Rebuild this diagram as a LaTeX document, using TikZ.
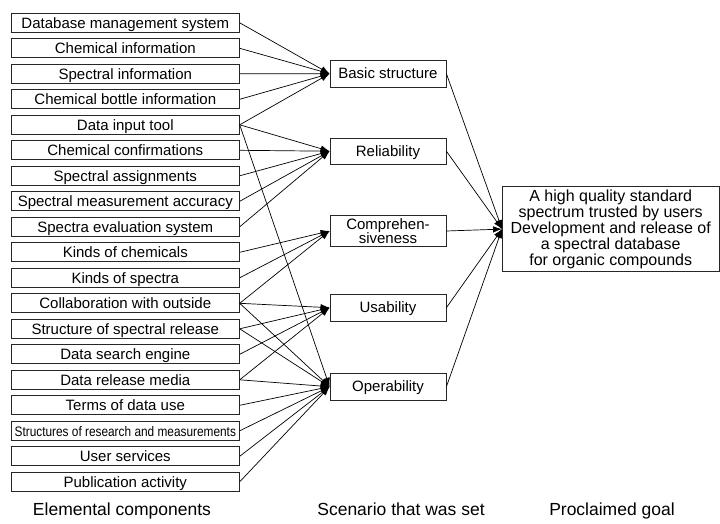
\documentclass[tikz,border=0pt]{standalone}
\usepackage{fontspec}
\setmainfont{Liberation Sans}
\usetikzlibrary{arrows.meta}
\begin{document}
\begin{tikzpicture}[x=1pt,y=-1pt,
  elem/.style={draw=black!85, line width=0.8pt, minimum width=228pt, minimum height=19pt, inner sep=0pt, text height=10.5pt, text depth=0pt, font=\fontsize{15}{15}\selectfont},
  scen/.style={draw=black!85, line width=0.8pt, minimum width=116pt, minimum height=26.5pt, inner sep=0pt, align=center, font=\fontsize{15}{14}\selectfont},
  goalbox/.style={draw=black!85, line width=0.8pt, minimum width=216.5pt, minimum height=85pt, inner sep=0pt, align=center, font=\fontsize{16}{14}\selectfont},
  conn/.style={line width=0.7pt, -{Latex[length=9pt,width=6.5pt]}},
  captxt/.style={font=\fontsize{17.5}{18}\selectfont, anchor=base}
]
\useasboundingbox (0,0) rectangle (720,524);

\node[elem] (e1)  at (125.3,22.8)  {Database management system};
\node[elem] (e2)  at (125.3,48.3)  {Chemical information};
\node[elem] (e3)  at (125.3,73.8)  {Spectral information};
\node[elem] (e4)  at (125.3,99.3)  {Chemical bottle information};
\node[elem] (e5)  at (125.3,124.8) {Data input tool};
\node[elem] (e6)  at (125.3,150.3) {Chemical confirmations};
\node[elem] (e7)  at (125.3,175.8) {Spectral assignments};
\node[elem] (e8)  at (125.3,201.3) {Spectral measurement accuracy};
\node[elem] (e9)  at (125.3,226.8) {Spectra evaluation system};
\node[elem] (e10) at (125.3,252.3) {Kinds of chemicals};
\node[elem] (e11) at (125.3,277.8) {Kinds of spectra};
\node[elem] (e12) at (125.3,303.3) {Collaboration with outside};
\node[elem] (e13) at (125.3,328.8) {Structure of spectral release};
\node[elem] (e14) at (125.3,354.3) {Data search engine};
\node[elem] (e15) at (125.3,379.8) {Data release media};
\node[elem] (e16) at (125.3,405.3) {Terms of data use};
\node[elem] (e17) at (125.3,430.8) {\scalebox{0.79}[0.92]{Structures of research and measurements}};
\node[elem] (e18) at (125.3,456.3) {User services};
\node[elem] (e19) at (125.3,481.8) {Publication activity};

\node[scen, text height=10.5pt, text depth=0pt] (basic) at (388,73.7)  {Basic structure};
\node[scen, text height=10.5pt, text depth=0pt] (rel)   at (388,151.2) {Reliability};
\node[scen, minimum height=31.5pt] (comp) at (388,231) {Comprehen-\\siveness};
\node[scen, text height=10.5pt, text depth=0pt] (usab)  at (388,307.7) {Usability};
\node[scen, text height=10.5pt, text depth=0pt] (oper)  at (388,386.7) {Operability};

\node[goalbox] (goal) at (610.7,229.1) {A high quality standard\\spectrum trusted by users\\Development and release of\\a spectral database\\for organic compounds};

\foreach \i in {1,2,3,4,5} \draw[conn] (e\i.east) -- (basic.west);
\foreach \i in {5,6,7,8,9} \draw[conn] (e\i.east) -- (rel.west);
\foreach \i in {10,11,12} \draw[conn] (e\i.east) -- (comp.west);
\foreach \i in {12,13,14,15} \draw[conn] (e\i.east) -- (usab.west);
\foreach \i in {5,12,13,15,16,17,18,19} \draw[conn] (e\i.east) -- (oper.west);
\foreach \n in {basic,rel,comp,usab,oper} \draw[conn] (\n.east) -- (goal.west);

\node[captxt] (c1) at (122,515) {Elemental components};
\node[captxt] (c2) at (401,515) {Scenario that was set};
\node[captxt] (c3) at (612,515) {Proclaimed goal};
\end{tikzpicture}
\end{document}
